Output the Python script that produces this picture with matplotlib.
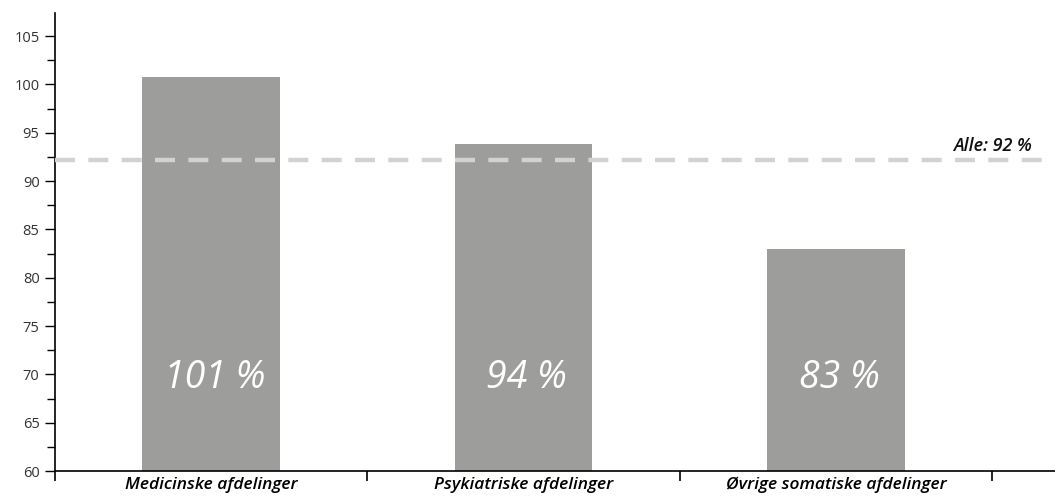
import matplotlib.pyplot as plt
from matplotlib.ticker import MultipleLocator

# Belægningsprocent pr. afdelingstype
categories = ["Medicinske afdelinger", "Psykiatriske afdelinger", "Øvrige somatiske afdelinger"]
values = [100.8, 93.8, 83.0]
overall = 92.2
overall_label = "Alle"

bar_color = "#9d9d9c"
line_color = "#d2d2d2"

plt.rcParams['font.family'] = ['Open Sans', 'DejaVu Sans']

fig = plt.figure(figsize=(10.55, 4.98), dpi=100)
ax = fig.add_axes([0.052, 0.054, 0.948, 0.92])

x = list(range(len(categories)))
ax.bar(x, values, width=0.44, color=bar_color, zorder=2)

# Landsgennemsnit som stiplet linje
ax.axhline(overall, color=line_color, lw=3.2, ls=(0, (4.5, 3)), zorder=3)
ax.text(2.625, overall + 0.5, f"{overall_label}: {overall:.0f} %", ha="right", va="bottom",
        fontsize=13, style="italic", fontweight="semibold", color="#111111")

for xi, v in zip(x, values):
    ax.text(xi + 0.01, 69.6, f"{v:.0f} %", ha="center", va="center", fontsize=27,
            style="italic", fontweight="medium", color="white", zorder=4)

ax.set_xlim(-0.5, 2.7)
ax.set_ylim(60, 107.4)

ax.yaxis.set_major_locator(MultipleLocator(5))
ax.yaxis.set_minor_locator(MultipleLocator(2.5))
ax.tick_params(axis="y", which="major", length=7, width=1, labelsize=10.5, labelcolor="#333333", pad=4)
ax.tick_params(axis="y", which="minor", length=6, width=1)

# kategorigrænser som ticks, navne midt i hver kategori
ax.set_xticks([-0.5, 0.5, 1.5, 2.5])
ax.set_xticklabels([])
ax.set_xticks(x, minor=True)
ax.set_xticklabels(categories, minor=True, fontsize=12.5, style="italic", fontweight="semibold")
ax.tick_params(axis="x", which="minor", length=0, pad=4)
ax.tick_params(axis="x", which="major", length=7, width=1.2, direction="out")

for side in ["top", "right"]:
    ax.spines[side].set_visible(False)
for side in ["left", "bottom"]:
    ax.spines[side].set_linewidth(1.2)

fig.savefig("out.png", dpi=100)
